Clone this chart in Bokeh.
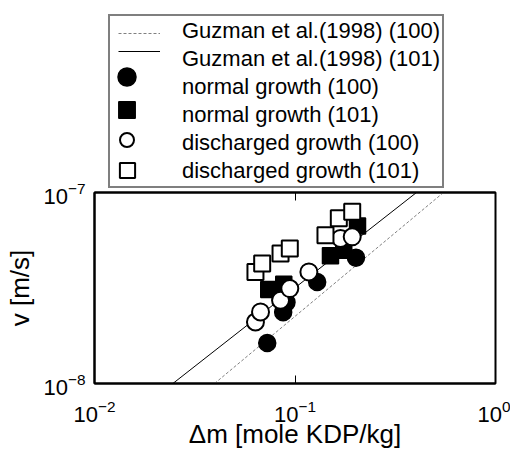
from bokeh.plotting import figure
from bokeh.layouts import column
from bokeh.models import (Range1d, LogAxis, FixedTicker, Legend, LegendItem,
                          CustomJSTickFormatter)
from bokeh.core.properties import value
from bokeh.embed import file_html
from bokeh.resources import INLINE

# ---- data ----
guz100_x = [0.0397, 0.5503]
guz100_y = [1.0e-8, 1.0e-7]
guz101_x = [0.0246, 0.4036]
guz101_y = [1.0e-8, 1.0e-7]

normal100_x = [0.0727, 0.0873, 0.0907, 0.129, 0.2014]
normal100_y = [1.63e-8, 2.36e-8, 2.66e-8, 3.40e-8, 4.56e-8]

normal101_x = [0.0740, 0.0879, 0.1503, 0.175, 0.205]
normal101_y = [3.11e-8, 3.31e-8, 4.67e-8, 4.99e-8, 6.67e-8]

dis100_x = [0.0635, 0.0673, 0.0847, 0.0942, 0.1173, 0.1686, 0.1929]
dis100_y = [2.10e-8, 2.37e-8, 2.73e-8, 3.14e-8, 3.84e-8, 5.75e-8, 5.86e-8]

dis101_x = [0.0635, 0.0686, 0.0847, 0.0942, 0.1419, 0.1654, 0.1929]
dis101_y = [3.84e-8, 4.25e-8, 4.80e-8, 5.09e-8, 5.98e-8, 7.33e-8, 7.92e-8]

x_ticks = [1e-2, 1e-1, 1e0]
y_ticks = [1e-8, 1e-7]

labels = ["Guzman et al.(1998) (100)", "Guzman et al.(1998) (101)",
          "normal growth (100)", "normal growth (101)",
          "discharged growth (100)", "discharged growth (101)"]

FONT = "Liberation Sans"
LEFT, RIGHT = 94, 15
OVERLAP = 14


def draw_series(fig, visible=True):
    rs = []
    rs.append(fig.line(guz100_x, guz100_y, line_color="#808080", line_width=1,
                       line_dash="3 2", visible=visible))
    rs.append(fig.line(guz101_x, guz101_y, line_color="black", line_width=1,
                       visible=visible))
    rs.append(fig.scatter(normal100_x, normal100_y, marker="circle", size=17,
                          fill_color="black", line_color="black",
                          line_width=1.5, visible=visible))
    rs.append(fig.scatter(normal101_x, normal101_y, marker="square", size=16,
                          fill_color="black", line_color="black",
                          line_width=1.5, visible=visible))
    rs.append(fig.scatter(dis100_x, dis100_y, marker="circle", size=17,
                          fill_color="white", line_color="black",
                          line_width=2, visible=visible))
    rs.append(fig.scatter(dis101_x, dis101_y, marker="square", size=16,
                          fill_color="white", line_color="black",
                          line_width=2, visible=visible))
    return rs


# ---------- legend panel ----------
lg = figure(width=510, height=190, x_axis_type="log", y_axis_type="log",
            x_range=Range1d(1e-2, 1e0), y_range=Range1d(1e-8, 1e-7),
            x_axis_location=None, y_axis_location=None,
            output_backend="svg", toolbar_location=None,
            min_border_left=LEFT, min_border_right=RIGHT,
            min_border_top=0, min_border_bottom=0)
lg.outline_line_color = None
lg.grid.visible = False
lg_rs = draw_series(lg, visible=False)

# text column with its box
text_leg = Legend(items=[LegendItem(label=l, renderers=[]) for l in labels],
                  location=(14, 2),
                  label_text_font=FONT, label_text_font_size="22px",
                  label_text_color="black",
                  glyph_width=40, glyph_height=26, label_height=26,
                  spacing=2, padding=2, margin=0, label_standoff=30,
                  border_line_color="black", border_line_width=2,
                  background_fill_color="white", background_fill_alpha=1)
lg.add_layout(text_leg, "center")

# legend swatches: (box width, box height, left, bottom) in the panel frame
swatch_boxes = [(42, 10, 24, 152), (42, 10, 24, 134),
                (45, 45, 10, 91), (41, 41, 12, 60),
                (35, 35, 15, 33), (38, 38, 14, 1)]
for r, (w, h, fx, fy) in zip(lg_rs, swatch_boxes):
    sw = Legend(items=[LegendItem(label=value(""), renderers=[r])],
                location=(fx, fy), glyph_width=w, glyph_height=h,
                label_width=0, label_height=0, label_standoff=0,
                padding=0, margin=0, spacing=0,
                label_text_font_size="1px",
                border_line_color=None, background_fill_alpha=0)
    lg.add_layout(sw, "center")

# ---------- main plot ----------
p = figure(width=510, height=268 + OVERLAP, x_axis_type="log", y_axis_type="log",
           x_range=Range1d(1e-2, 1e0), y_range=Range1d(1e-8, 1e-7),
           output_backend="svg", toolbar_location=None,
           min_border_left=LEFT, min_border_right=RIGHT,
           min_border_top=2 + OVERLAP, min_border_bottom=75)
p.margin = (-OVERLAP, 0, 0, 0)
p.border_fill_alpha = 0
p.grid.visible = False
p.outline_line_color = "black"
p.outline_line_width = 2

p.xaxis.ticker = FixedTicker(ticks=x_ticks)
p.yaxis.ticker = FixedTicker(ticks=y_ticks)
for ax in (p.xaxis[0], p.yaxis[0]):
    ax.axis_line_width = 2
    ax.major_tick_in = 8
    ax.major_tick_out = 0
    ax.minor_tick_line_color = None
    ax.major_label_text_font = FONT
    ax.major_label_text_font_size = "22px"
    ax.major_label_text_color = "black"
    ax.axis_label_text_font = FONT
    ax.axis_label_text_font_size = "26px"
    ax.axis_label_text_font_style = "normal"
    ax.axis_label_text_color = "black"
p.yaxis.major_tick_in = 0
p.xaxis.axis_label = "\u0394m [mole KDP/kg]"
p.yaxis.axis_label = "v [m/s]"
p.xaxis.major_label_standoff = 16
p.xaxis.axis_label_standoff = -6
p.yaxis.major_label_standoff = 9

top = LogAxis(ticker=FixedTicker(ticks=x_ticks),
              formatter=CustomJSTickFormatter(code="return ''"),
              axis_line_width=2, major_tick_in=8, major_tick_out=0,
              minor_tick_line_color=None, major_label_text_font_size="1px",
              major_label_standoff=0)
p.add_layout(top, "above")

draw_series(p)

layout = column(lg, p, spacing=0)
open("out.html", "w").write(file_html(layout, INLINE))
